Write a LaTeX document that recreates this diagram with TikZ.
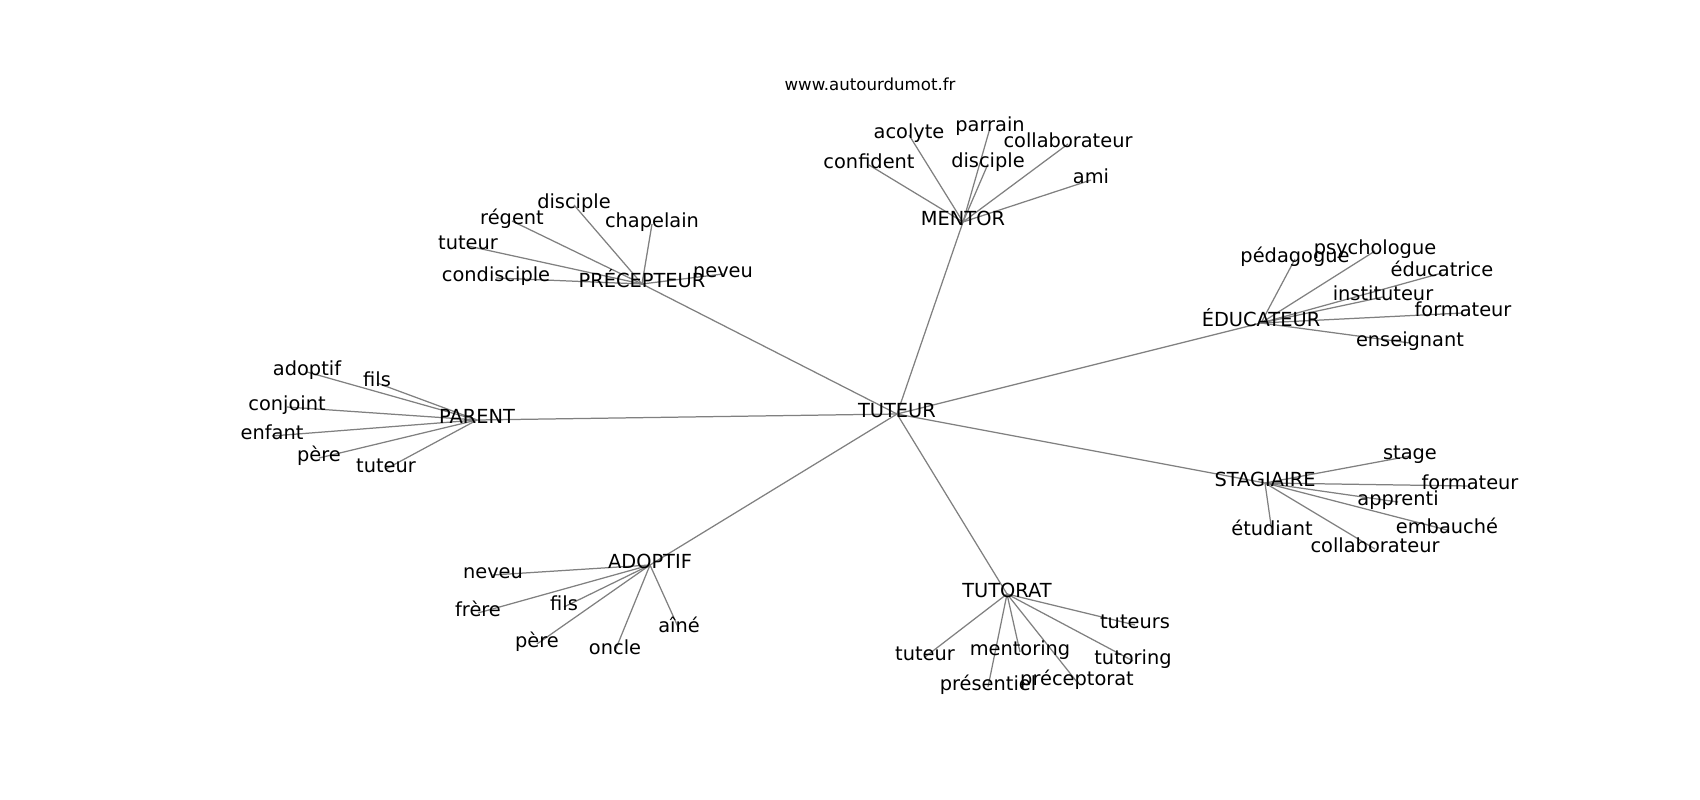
\documentclass[tikz,border=0pt]{standalone}
\usepackage{fontspec}
\setmainfont{DejaVu Sans}
\usetikzlibrary{backgrounds}
\tikzset{
  lbl/.style={inner sep=0pt, outer sep=0pt, font=\fontsize{14pt}{16pt}\selectfont, text height=0.76em, text depth=0.24em, anchor=center},
  edge/.style={draw=black!50, line width=0.9pt},
  ttl/.style={inner sep=0pt, font=\fontsize{12pt}{14pt}\selectfont}
}
\begin{document}
\begin{tikzpicture}[x=0.01in, y=-0.01in]
\useasboundingbox (0,0) rectangle (1700,800);
\begin{scope}[shift={(0,4)}]
\node[ttl] (title) at (870,80) {www.autourdumot.fr};
% hubs
\node[lbl] (tut) at (897,410) {TUTEUR};
\node[lbl] (men) at (963,218) {MENTOR};
\node[lbl] (pre) at (642,280) {PRÉCEPTEUR};
\node[lbl] (edu) at (1261,319) {ÉDUCATEUR};
\node[lbl] (par) at (477,416) {PARENT};
\node[lbl] (sta) at (1265,479) {STAGIAIRE};
\node[lbl] (ado) at (650,561) {ADOPTIF};
\node[lbl] (tor) at (1007,590) {TUTORAT};
% mentor leaves
\node[lbl] (m1) at (869,161) {confident};
\node[lbl] (m2) at (909,131) {acolyte};
\node[lbl] (m3) at (990,124) {parrain};
\node[lbl] (m4) at (988,160) {disciple};
\node[lbl] (m5) at (1068,140) {collaborateur};
\node[lbl] (m6) at (1091,176) {ami};
% precepteur leaves
\node[lbl] (p1) at (574,201) {disciple};
\node[lbl] (p2) at (512,217) {régent};
\node[lbl] (p3) at (652,220) {chapelain};
\node[lbl] (p4) at (468,242) {tuteur};
\node[lbl] (p5) at (496,274) {condisciple};
\node[lbl] (p6) at (723,270) {neveu};
% educateur leaves
\node[lbl] (e1) at (1295,255) {pédagogue};
\node[lbl] (e2) at (1375,247) {psychologue};
\node[lbl] (e3) at (1442,269) {éducatrice};
\node[lbl] (e4) at (1383,293) {instituteur};
\node[lbl] (e5) at (1463,309) {formateur};
\node[lbl] (e6) at (1410,339) {enseignant};
% parent leaves
\node[lbl] (a1) at (307,368) {adoptif};
\node[lbl] (a2) at (377,379) {fils};
\node[lbl] (a3) at (287,403) {conjoint};
\node[lbl] (a4) at (272,432) {enfant};
\node[lbl] (a5) at (319,454) {père};
\node[lbl] (a6) at (386,465) {tuteur};
% stagiaire leaves
\node[lbl] (s1) at (1410,452) {stage};
\node[lbl] (s2) at (1470,482) {formateur};
\node[lbl] (s3) at (1398,498) {apprenti};
\node[lbl] (s4) at (1447,526) {embauché};
\node[lbl] (s5) at (1272,528) {étudiant};
\node[lbl] (s6) at (1375,545) {collaborateur};
% adoptif leaves
\node[lbl] (d1) at (493,571) {neveu};
\node[lbl] (d2) at (478,609) {frère};
\node[lbl] (d3) at (564,603) {fils};
\node[lbl] (d4) at (537,640) {père};
\node[lbl] (d5) at (615,647) {oncle};
\node[lbl] (d6) at (679,625) {aîné};
% tutorat leaves
\node[lbl] (t1) at (1135,621) {tuteurs};
\node[lbl] (t2) at (1133,657) {tutoring};
\node[lbl] (t3) at (925,653) {tuteur};
\node[lbl] (t4) at (1020,648) {mentoring};
\node[lbl] (t5) at (988,683) {présentiel};
\node[lbl] (t6) at (1077,678) {préceptorat};
\begin{scope}[on background layer]
\foreach \h in {men,pre,edu,par,sta,ado,tor} \draw[edge] (tut.center) -- (\h.center);
\foreach \l in {m1,m2,m3,m4,m5,m6} \draw[edge] (men.center) -- (\l.center);
\foreach \l in {p1,p2,p3,p4,p5,p6} \draw[edge] (pre.center) -- (\l.center);
\foreach \l in {e1,e2,e3,e4,e5,e6} \draw[edge] (edu.center) -- (\l.center);
\foreach \l in {a1,a2,a3,a4,a5,a6} \draw[edge] (par.center) -- (\l.center);
\foreach \l in {s1,s2,s3,s4,s5,s6} \draw[edge] (sta.center) -- (\l.center);
\foreach \l in {d1,d2,d3,d4,d5,d6} \draw[edge] (ado.center) -- (\l.center);
\foreach \l in {t1,t2,t3,t4,t5,t6} \draw[edge] (tor.center) -- (\l.center);
\end{scope}
\end{scope}
\end{tikzpicture}
\end{document}
